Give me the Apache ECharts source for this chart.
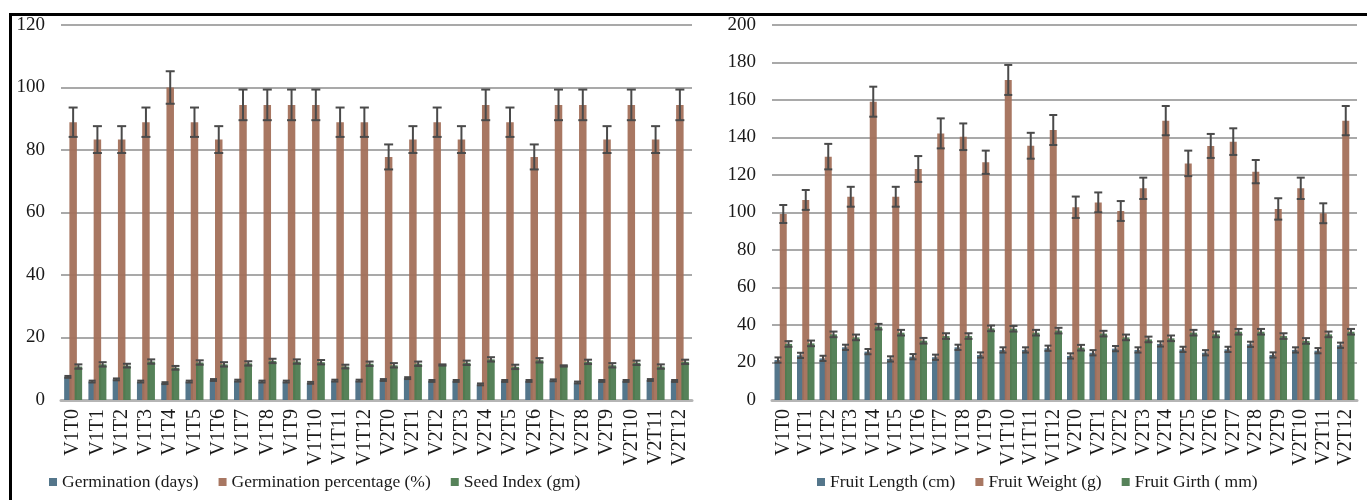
<!DOCTYPE html>
<html>
<head>
<meta charset="utf-8">
<script src="https://cdn.jsdelivr.net/npm/echarts@6/dist/echarts.min.js"></script>
<style>
html,body{margin:0;padding:0;background:#fff;}
#chart{width:1367px;height:500px;}
</style>
</head>
<body>
<div id="chart"></div>
<script>
const categories = ['V1T0','V1T1','V1T2','V1T3','V1T4','V1T5','V1T6','V1T7','V1T8','V1T9','V1T10','V1T11','V1T12',
                    'V2T0','V2T1','V2T2','V2T3','V2T4','V2T5','V2T6','V2T7','V2T8','V2T9','V2T10','V2T11','V2T12'];

// Left chart
const germDays    = [7.4,5.9,6.6,5.9,5.4,5.9,6.4,6.2,5.9,5.9,5.5,6.2,6.2, 6.4,7.0,6.1,6.1,5.0,6.1,6.1,6.3,5.6,6.1,6.1,6.4,6.1];
const germDaysErr = [0.3,0.3,0.3,0.3,0.3,0.3,0.3,0.3,0.3,0.3,0.3,0.3,0.3, 0.3,0.3,0.3,0.3,0.3,0.3,0.3,0.3,0.3,0.3,0.3,0.3,0.3];
const germPct     = [88.89,83.33,83.33,88.89,100,88.89,83.33,94.44,94.44,94.44,94.44,88.89,88.89,
                     77.78,83.33,88.89,83.33,94.44,88.89,77.78,94.44,94.44,83.33,94.44,83.33,94.44];
const germPctErr  = [4.7,4.3,4.3,4.7,5.2,4.7,4.3,4.9,4.9,4.9,4.9,4.7,4.7, 4.0,4.3,4.7,4.3,4.9,4.7,4.0,4.9,4.9,4.3,4.9,4.3,4.9];
const seedIndex   = [10.7,11.4,11.0,12.3,10.3,12.0,11.4,11.7,12.5,12.3,12.1,10.7,11.6, 11.1,11.6,11.2,11.9,13.0,10.6,12.7,10.9,12.2,11.1,11.9,10.7,12.2];
const seedIndexErr= [0.7,0.7,0.6,0.7,0.6,0.7,0.7,0.7,0.7,0.7,0.7,0.6,0.7, 0.7,0.7,0.2,0.7,0.7,0.7,0.7,0.2,0.7,0.7,0.7,0.7,0.7];

// Right chart
const fruitLength    = [21.3,23.8,22.2,28.1,25.8,21.9,23.1,22.8,28.1,24.0,26.7,26.7,27.6, 23.5,25.2,27.4,26.7,29.9,27.0,25.2,27.0,29.7,24.0,26.7,26.3,29.2];
const fruitLengthErr = [1.4,1.4,1.4,1.4,1.4,1.4,1.4,1.4,1.4,1.4,1.4,1.4,1.4, 1.4,1.4,1.4,1.4,1.4,1.4,1.4,1.4,1.4,1.4,1.4,1.4,1.4];
const fruitWeight    = [99.2,106.7,129.8,108.4,159.1,108.4,123.2,142.2,140.4,126.8,170.7,135.6,144.0,
                        102.8,105.4,100.8,112.9,149.0,126.2,135.5,137.8,121.8,101.9,112.9,99.6,149.0];
const fruitWeightErr = [4.8,5.3,6.8,5.3,8.0,5.3,6.9,8.0,7.1,6.2,8.0,6.9,8.0, 5.7,5.3,5.3,5.7,7.8,6.8,6.4,7.1,6.2,5.7,5.7,5.3,7.8];
const fruitGirth     = [29.9,30.2,35.0,33.4,39.1,35.9,31.6,34.1,34.1,38.2,38.0,35.9,37.0, 27.9,35.4,33.4,32.3,32.9,35.9,35.0,36.4,36.4,34.1,31.5,35.0,36.4];
const fruitGirthErr  = [1.5,1.5,1.5,1.5,1.5,1.5,1.5,1.5,1.5,1.5,1.5,1.5,1.5, 1.5,1.5,1.5,1.5,1.5,1.5,1.5,1.5,1.5,1.5,1.5,1.5,1.5];

const leftTicks  = {min:0, max:120, interval:20};
const rightTicks = {min:0, max:200, interval:20};

const COLORS = ['#4b6f85','#a3705a','#4d7b50'];
const FONT = 'Liberation Serif';

const chart = echarts.init(document.getElementById('chart'));

function barSeries(name, data, idx, axisIdx, bw, gap){
  return {
    name, type:'bar', data, xAxisIndex:axisIdx, yAxisIndex:axisIdx,
    barWidth:bw, barGap:gap, itemStyle:{color:COLORS[idx], opacity:0.95},
    z:2
  };
}
function errSeries(name, vals, errs, idx, axisIdx, bw, gapFrac, cap){
  const step = bw*(1+gapFrac);
  const off = (idx-1)*step;
  return {
    name, type:'custom', xAxisIndex:axisIdx, yAxisIndex:axisIdx, z:5,
    data: vals.map((v,i)=>[i, v, errs[i]]),
    renderItem(params, api){
      const c = api.value(0), v = api.value(1), e = api.value(2);
      const hi = api.coord([c, v+e]);
      const lo = api.coord([c, v-e]);
      const x = hi[0] + off;
      const st = {stroke:'#4a4a4a', lineWidth:2};
      return {type:'group', children:[
        {type:'line', shape:{x1:x, y1:hi[1], x2:x, y2:lo[1]}, style:st},
        {type:'line', shape:{x1:x-cap/2, y1:hi[1], x2:x+cap/2, y2:hi[1]}, style:st},
        {type:'line', shape:{x1:x-cap/2, y1:lo[1], x2:x+cap/2, y2:lo[1]}, style:st}
      ]};
    },
    tooltip:{show:false}, silent:true
  };
}

const LBW = 7.5, LG = -0.3;
const RBW = 7, RG = -0.25;

const xAxisCommon = {
  type:'category', data:categories,
  axisTick:{show:false},
  axisLine:{lineStyle:{color:'#b5b5b5', width:3}},
  axisLabel:{rotate:90, fontFamily:FONT, fontSize:20, color:'#1a1a1a', margin:9, interval:0}
};
const yAxisCommon = {
  type:'value',
  axisLine:{show:false}, axisTick:{show:false},
  splitLine:{lineStyle:{color:'#a9a9a9', width:2}},
  axisLabel:{fontFamily:FONT, fontSize:19, color:'#1a1a1a', margin:16}
};

chart.setOption({
  animation:false,
  graphic:[
    {type:'rect', shape:{x:9, y:13, width:1358, height:3}, style:{fill:'#000'}, z:100},
    {type:'rect', shape:{x:9, y:13, width:3, height:487}, style:{fill:'#000'}, z:100}
  ],
  grid:[
    {left:61, right:1367-692, top:25, bottom:100},
    {left:772, right:10, top:25, bottom:100}
  ],
  xAxis:[
    Object.assign({gridIndex:0}, xAxisCommon),
    Object.assign({gridIndex:1}, xAxisCommon)
  ],
  yAxis:[
    Object.assign({gridIndex:0}, yAxisCommon, leftTicks),
    Object.assign({gridIndex:1}, yAxisCommon, rightTicks)
  ],
  legend:[
    {data:['Germination (days)','Germination percentage (%)','Seed Index (gm)'],
     left:44, top:468, itemWidth:8, itemHeight:8, itemGap:20, icon:'rect',
     textStyle:{fontFamily:FONT, fontSize:17.5, color:'#1a1a1a'}},
    {data:['Fruit Length (cm)','Fruit Weight (g)','Fruit Girth ( mm)'],
     left:812, top:468, itemWidth:8, itemHeight:8, itemGap:20, icon:'rect',
     textStyle:{fontFamily:FONT, fontSize:17.5, color:'#1a1a1a'}}
  ],
  series:[
    barSeries('Germination (days)', germDays, 0, 0, LBW, LG*100+'%'),
    barSeries('Germination percentage (%)', germPct, 1, 0, LBW, LG*100+'%'),
    barSeries('Seed Index (gm)', seedIndex, 2, 0, LBW, LG*100+'%'),
    errSeries('e1', germDays, germDaysErr, 0, 0, LBW, LG, 7),
    errSeries('e2', germPct, germPctErr, 1, 0, LBW, LG, 9),
    errSeries('e3', seedIndex, seedIndexErr, 2, 0, LBW, LG, 8),
    barSeries('Fruit Length (cm)', fruitLength, 0, 1, RBW, RG*100+'%'),
    barSeries('Fruit Weight (g)', fruitWeight, 1, 1, RBW, RG*100+'%'),
    barSeries('Fruit Girth ( mm)', fruitGirth, 2, 1, RBW, RG*100+'%'),
    errSeries('e4', fruitLength, fruitLengthErr, 0, 1, RBW, RG, 7),
    errSeries('e5', fruitWeight, fruitWeightErr, 1, 1, RBW, RG, 8),
    errSeries('e6', fruitGirth, fruitGirthErr, 2, 1, RBW, RG, 8)
  ]
});
</script>
</body>
</html>
